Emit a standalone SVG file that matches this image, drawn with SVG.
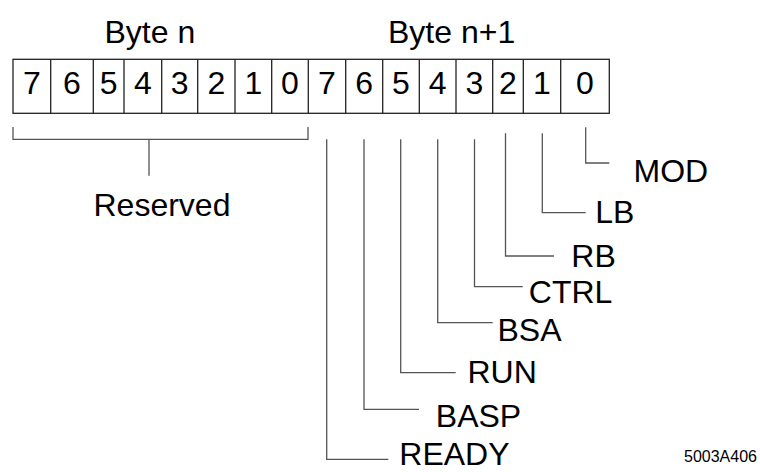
<svg xmlns="http://www.w3.org/2000/svg" width="760" height="472" viewBox="0 0 760 472">
<style>
text{font-family:"Liberation Sans",Arial,sans-serif;font-size:32px;fill:#000}
.d{text-anchor:middle}
.cell{fill:#fff;stroke:#222;stroke-width:1.3}
.ln{fill:none;stroke:#555;stroke-width:1.3}
.small{font-size:16px}
</style>
<rect width="760" height="472" fill="#fff"/>
<g id="byte-labels">
<text x="104.5" y="42.5">Byte n</text>
<text x="388" y="42.5">Byte n+1</text>
</g>
<g id="register">
<rect class="cell" x="13" y="59.3" width="596.3" height="54"/>
<path class="cell" d="M50.7 59.3V113.3M93.3 59.3V113.3M124 59.3V113.3M161.7 59.3V113.3M197.7 59.3V113.3M235 59.3V113.3M271.7 59.3V113.3M308.3 59.3V113.3M345.7 59.3V113.3M382.7 59.3V113.3M419.3 59.3V113.3M456 59.3V113.3M492.7 59.3V113.3M523.3 59.3V113.3M560.7 59.3V113.3"/>
<text class="d" x="31.8" y="93.5">7</text>
<text class="d" x="72" y="93.5">6</text>
<text class="d" x="108.7" y="93.5">5</text>
<text class="d" x="142.8" y="93.5">4</text>
<text class="d" x="179.7" y="93.5">3</text>
<text class="d" x="216.3" y="93.5">2</text>
<text class="d" x="253.3" y="93.5">1</text>
<text class="d" x="290" y="93.5">0</text>
<text class="d" x="327" y="93.5">7</text>
<text class="d" x="364.2" y="93.5">6</text>
<text class="d" x="401" y="93.5">5</text>
<text class="d" x="437.7" y="93.5">4</text>
<text class="d" x="474.3" y="93.5">3</text>
<text class="d" x="508" y="93.5">2</text>
<text class="d" x="542" y="93.5">1</text>
<text class="d" x="585" y="93.5">0</text>
</g>
<g id="connectors">
<path class="ln" d="M13 127V139.3H308V127M149 139.3V175.7"/>
<path class="ln" d="M585.7 127.3V163H609.3"/>
<path class="ln" d="M542.3 133.3V212.7H585.7"/>
<path class="ln" d="M505.5 133.3V256H554"/>
<path class="ln" d="M474.5 139.3V286.7H522.7"/>
<path class="ln" d="M437.7 139.3V322.7H492.7"/>
<path class="ln" d="M400.7 139.3V372.7H455.7"/>
<path class="ln" d="M364 139.3V409.3H419"/>
<path class="ln" d="M326.7 139.3V459.3H388.3"/>
</g>
<g id="reserved"><text x="93.5" y="216">Reserved</text></g>
<g id="mod"><text x="633.5" y="181.5">MOD</text></g>
<g id="lb"><text x="595.3" y="223">LB</text></g>
<g id="rb"><text x="571.3" y="266.7">RB</text></g>
<g id="ctrl"><text x="528.8" y="302.5">CTRL</text></g>
<g id="bsa"><text x="497.5" y="340.5">BSA</text></g>
<g id="run"><text x="467.5" y="382.5">RUN</text></g>
<g id="basp"><text x="435.8" y="426.5">BASP</text></g>
<g id="ready"><text x="399.3" y="465.3">READY</text></g>
<g id="figure-id"><text class="small" x="684" y="462">5003A406</text></g>
</svg>
